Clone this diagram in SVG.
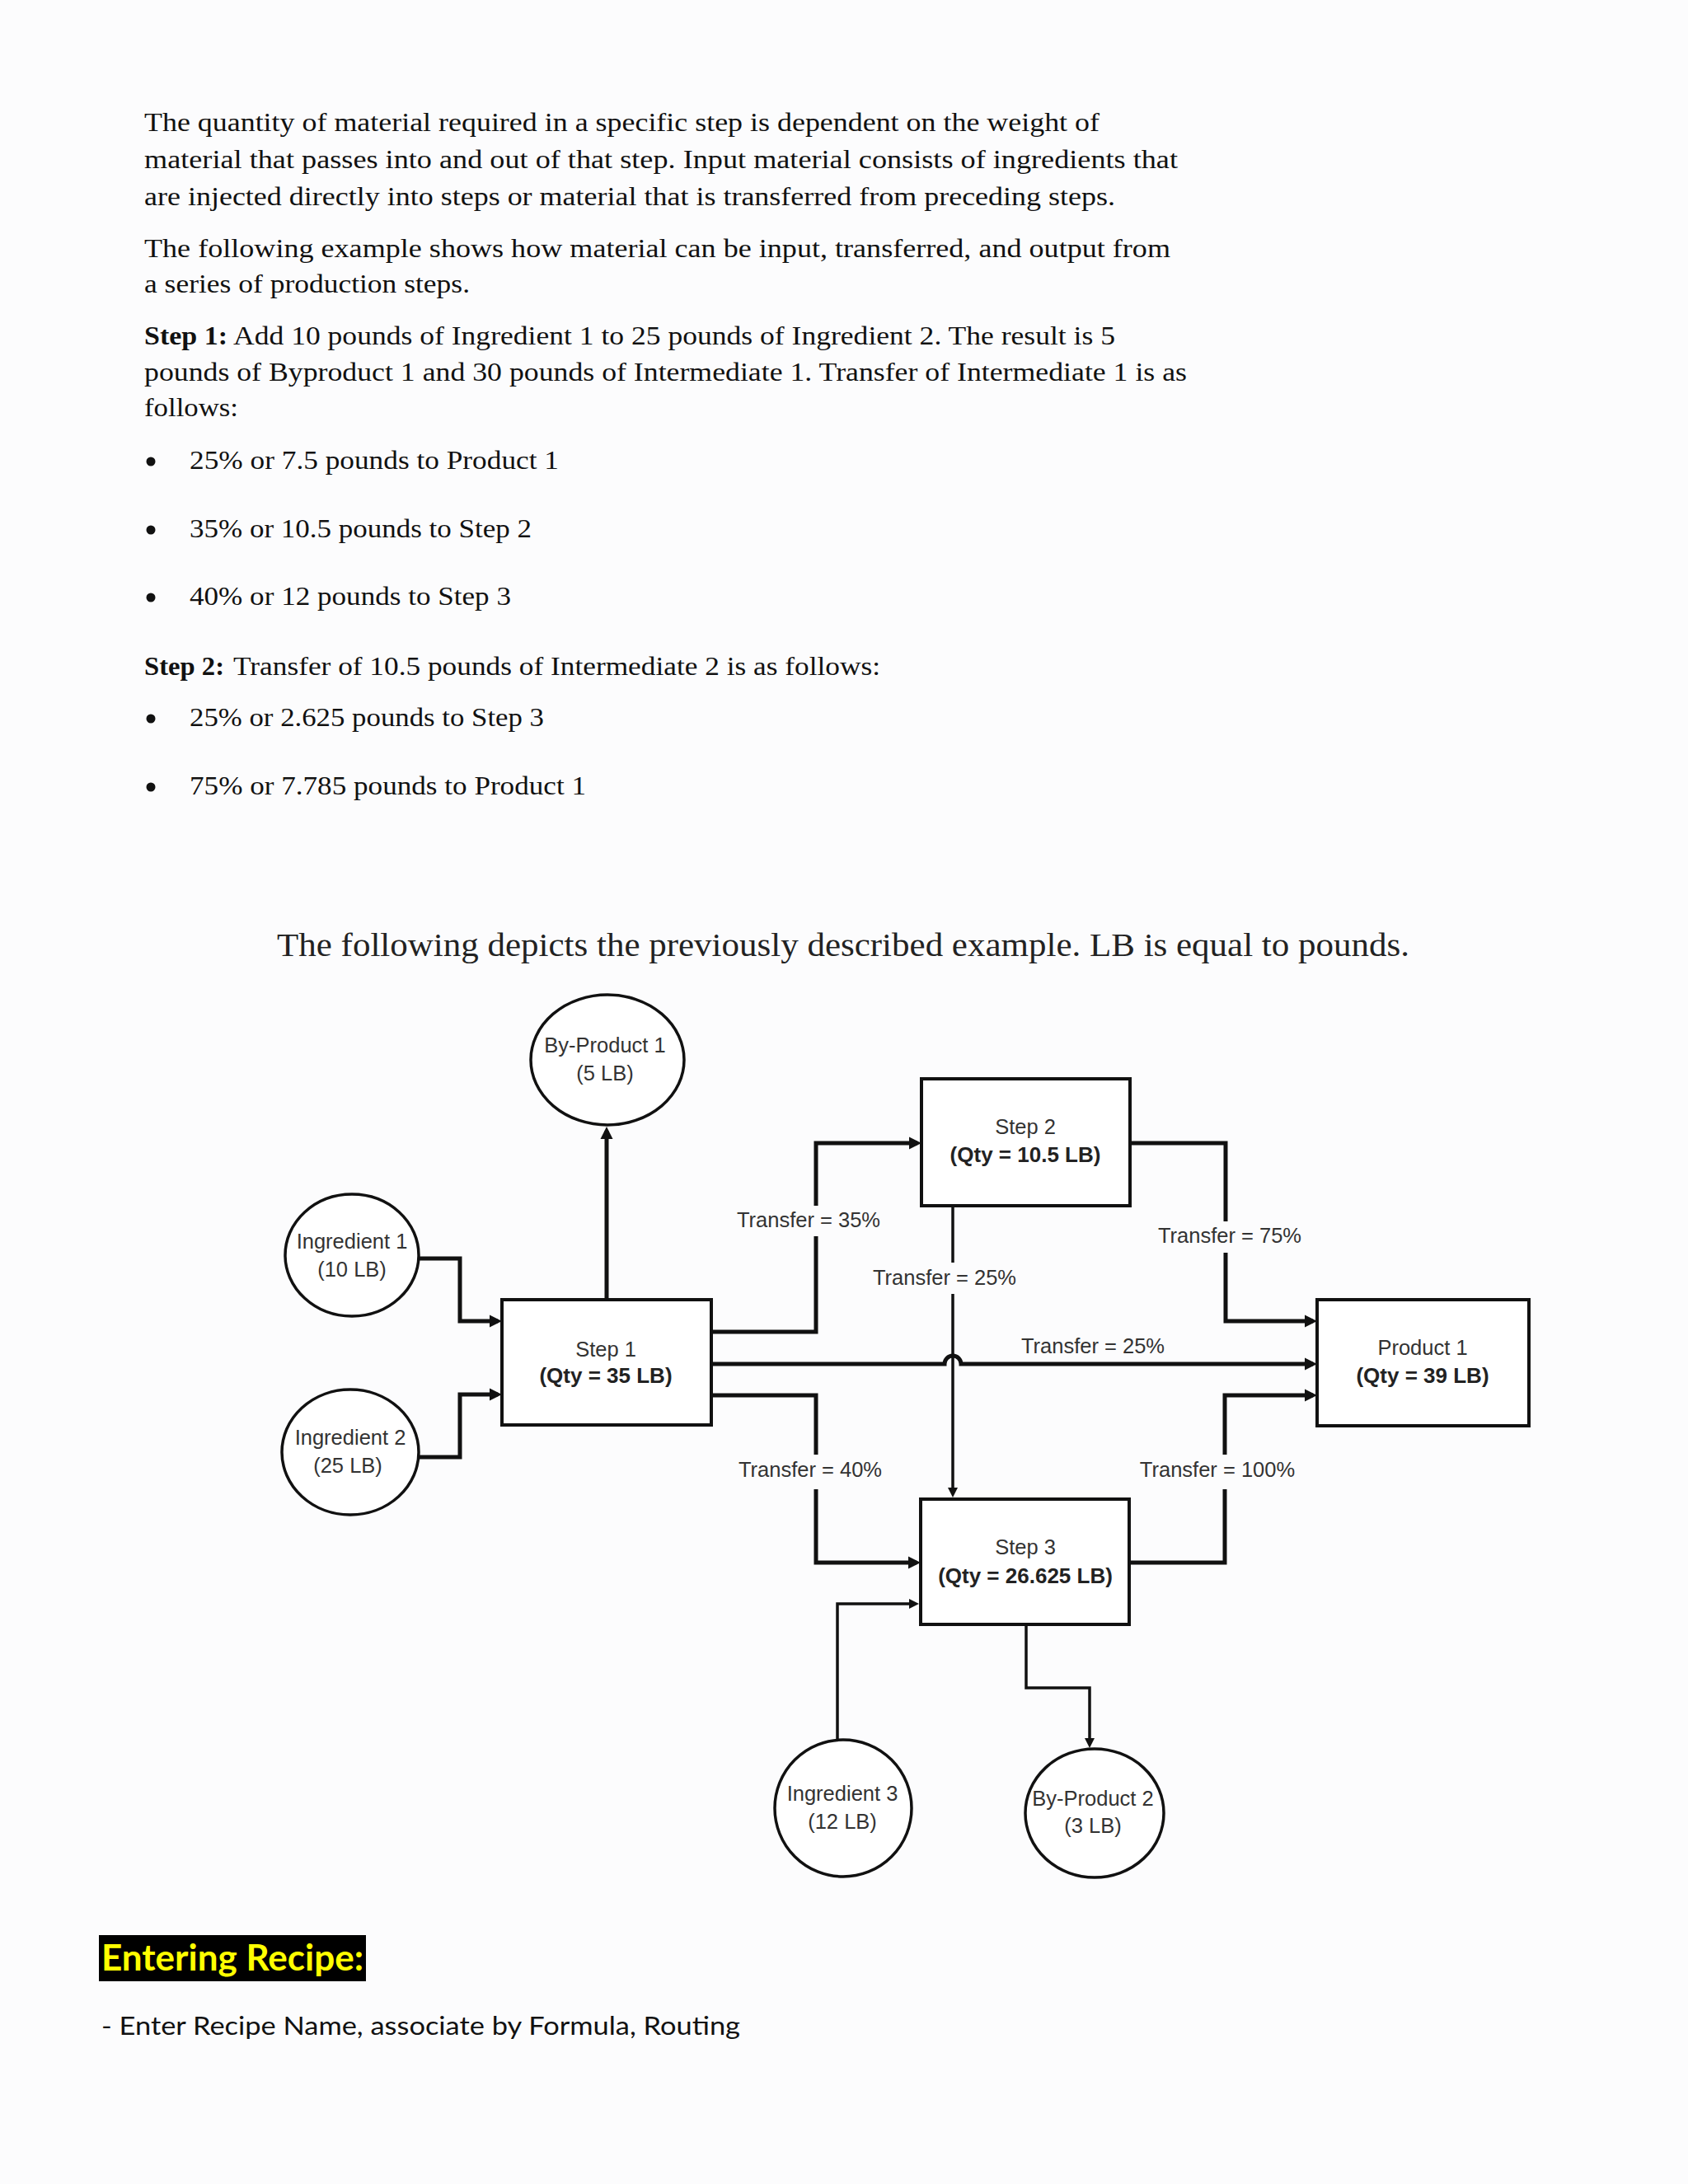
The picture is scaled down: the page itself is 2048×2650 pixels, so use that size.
<svg xmlns="http://www.w3.org/2000/svg" width="2048" height="2650" viewBox="0 0 2048 2650">
<style>
.body{font-family:"Liberation Serif","Times New Roman",serif;font-size:32px;fill:#111}
.bold{font-weight:bold}
.cap{font-family:"Liberation Serif","Times New Roman",serif;font-size:40px;fill:#222}
.nt{font-family:"Liberation Sans",Arial,sans-serif;font-size:25.5px;fill:#333;text-anchor:middle}
.nb{font-family:"Liberation Sans",Arial,sans-serif;font-size:26px;font-weight:bold;fill:#222;text-anchor:middle}
.lbl{font-family:"Liberation Sans",Arial,sans-serif;font-size:25.5px;fill:#333;text-anchor:middle}
.box{fill:#fff;stroke:#111;stroke-width:4}
.circ{fill:#fff;stroke:#111;stroke-width:3.5}
.thick{fill:none;stroke:#111;stroke-width:5;stroke-linejoin:miter}
.thin{fill:none;stroke:#111;stroke-width:3.5;stroke-linejoin:miter}
.gap{fill:#fcfcfd}
.calibri{font-family:Lato,"Open Sans","Liberation Sans",sans-serif}
</style>
<defs>
<marker id="ah" markerUnits="userSpaceOnUse" markerWidth="17" markerHeight="17" refX="10" refY="8.5" orient="auto"><path d="M0,1 L15,8.5 L0,16 z" fill="#111"/></marker>
<marker id="ahs" markerUnits="userSpaceOnUse" markerWidth="14" markerHeight="14" refX="7" refY="7" orient="auto"><path d="M0,1 L12,7 L0,13 z" fill="#111"/></marker>
</defs>
<rect x="0" y="0" width="2048" height="2650" fill="#fcfcfd"/>

<g id="text-intro">
<text class="body" x="175" y="159" textLength="1159" lengthAdjust="spacingAndGlyphs">The quantity of material required in a specific step is dependent on the weight of</text>
<text class="body" x="175" y="204" textLength="1254" lengthAdjust="spacingAndGlyphs">material that passes into and out of that step. Input material consists of ingredients that</text>
<text class="body" x="175" y="249" textLength="1178" lengthAdjust="spacingAndGlyphs">are injected directly into steps or material that is transferred from preceding steps.</text>
<text class="body" x="175" y="312" textLength="1245" lengthAdjust="spacingAndGlyphs">The following example shows how material can be input, transferred, and output from</text>
<text class="body" x="175" y="355" textLength="395" lengthAdjust="spacingAndGlyphs">a series of production steps.</text>
<text class="body bold" x="175" y="418" textLength="101" lengthAdjust="spacingAndGlyphs">Step 1:</text>
<text class="body" x="283" y="418" textLength="1070" lengthAdjust="spacingAndGlyphs">Add 10 pounds of Ingredient 1 to 25 pounds of Ingredient 2. The result is 5</text>
<text class="body" x="175" y="462" textLength="1265" lengthAdjust="spacingAndGlyphs">pounds of Byproduct 1 and 30 pounds of Intermediate 1. Transfer of Intermediate 1 is as</text>
<text class="body" x="175" y="505" textLength="114" lengthAdjust="spacingAndGlyphs">follows:</text>
<circle cx="183" cy="560" r="5.5" fill="#111"/>
<text class="body" x="230" y="569" textLength="448" lengthAdjust="spacingAndGlyphs">25% or 7.5 pounds to Product 1</text>
<circle cx="183" cy="643" r="5.5" fill="#111"/>
<text class="body" x="230" y="652" textLength="415" lengthAdjust="spacingAndGlyphs">35% or 10.5 pounds to Step 2</text>
<circle cx="183" cy="725" r="5.5" fill="#111"/>
<text class="body" x="230" y="734" textLength="390" lengthAdjust="spacingAndGlyphs">40% or 12 pounds to Step 3</text>
<text class="body bold" x="175" y="819" textLength="97" lengthAdjust="spacingAndGlyphs">Step 2:</text>
<text class="body" x="283" y="819" textLength="785" lengthAdjust="spacingAndGlyphs">Transfer of 10.5 pounds of Intermediate 2 is as follows:</text>
<circle cx="183" cy="872" r="5.5" fill="#111"/>
<text class="body" x="230" y="881" textLength="430" lengthAdjust="spacingAndGlyphs">25% or 2.625 pounds to Step 3</text>
<circle cx="183" cy="955" r="5.5" fill="#111"/>
<text class="body" x="230" y="964" textLength="481" lengthAdjust="spacingAndGlyphs">75% or 7.785 pounds to Product 1</text>
<text class="cap" x="336" y="1160" textLength="1374" lengthAdjust="spacingAndGlyphs">The following depicts the previously described example. LB is equal to pounds.</text>
</g>

<g id="connectors">
<path class="thick" d="M508,1527 H558 V1603 H604" marker-end="url(#ah)"/>
<path class="thick" d="M508,1768 H558 V1692 H604" marker-end="url(#ah)"/>
<path class="thick" d="M736,1577 V1372" marker-end="url(#ah)"/>
<path class="thick" d="M863,1616 H990 V1387 H1113" marker-end="url(#ah)"/>
<path class="thick" d="M863,1655 H1146 A10,10 0 0 1 1166,1655 H1593" marker-end="url(#ah)"/>
<path class="thick" d="M863,1693 H990 V1896 H1112" marker-end="url(#ah)"/>
<path class="thick" d="M1371,1387 H1487 V1603 H1593" marker-end="url(#ah)"/>
<path class="thin" d="M1156,1463 V1812" marker-end="url(#ahs)"/>
<path class="thick" d="M1370,1896 H1486 V1693 H1593" marker-end="url(#ah)"/>
<path class="thin" d="M1016,2111 V1946 H1110" marker-end="url(#ahs)"/>
<path class="thin" d="M1245,1971 V2048 H1322 V2116" marker-end="url(#ahs)"/>
<rect class="gap" x="890" y="1463" width="182" height="37"/>
<text class="lbl" x="981" y="1489">Transfer = 35%</text>
<rect class="gap" x="1401" y="1482" width="182" height="38"/>
<text class="lbl" x="1492" y="1508">Transfer = 75%</text>
<rect class="gap" x="1055" y="1532" width="183" height="38"/>
<text class="lbl" x="1146" y="1559">Transfer = 25%</text>
<text class="lbl" x="1326" y="1642">Transfer = 25%</text>
<rect class="gap" x="893" y="1765" width="181" height="42"/>
<text class="lbl" x="983" y="1792">Transfer = 40%</text>
<rect class="gap" x="1379" y="1765" width="197" height="42"/>
<text class="lbl" x="1477" y="1792">Transfer = 100%</text>
</g>

<g id="byproduct1">
<ellipse class="circ" cx="737" cy="1286" rx="93" ry="79"/>
<text class="nt" x="734" y="1277">By-Product 1</text>
<text class="nt" x="734" y="1311">(5 LB)</text>
</g>
<g id="ingredient1">
<ellipse class="circ" cx="427" cy="1523" rx="81" ry="74"/>
<text class="nt" x="427" y="1515">Ingredient 1</text>
<text class="nt" x="427" y="1549">(10 LB)</text>
</g>
<g id="ingredient2">
<ellipse class="circ" cx="425" cy="1762" rx="83" ry="76"/>
<text class="nt" x="425" y="1753">Ingredient 2</text>
<text class="nt" x="422" y="1787">(25 LB)</text>
</g>
<g id="step1">
<rect class="box" x="609" y="1577" width="254" height="152"/>
<text class="nt" x="735" y="1646">Step 1</text>
<text class="nb" x="735" y="1678">(Qty = 35 LB)</text>
</g>
<g id="step2">
<rect class="box" x="1118" y="1309" width="253" height="154"/>
<text class="nt" x="1244" y="1376">Step 2</text>
<text class="nb" x="1244" y="1410">(Qty = 10.5 LB)</text>
</g>
<g id="product1">
<rect class="box" x="1598" y="1577" width="257" height="153"/>
<text class="nt" x="1726" y="1644">Product 1</text>
<text class="nb" x="1726" y="1678">(Qty = 39 LB)</text>
</g>
<g id="step3">
<rect class="box" x="1117" y="1819" width="253" height="152"/>
<text class="nt" x="1244" y="1886">Step 3</text>
<text class="nb" x="1244" y="1921">(Qty = 26.625 LB)</text>
</g>
<g id="ingredient3">
<ellipse class="circ" cx="1023" cy="2194" rx="83" ry="83"/>
<text class="nt" x="1022" y="2185">Ingredient 3</text>
<text class="nt" x="1022" y="2219">(12 LB)</text>
</g>
<g id="byproduct2">
<ellipse class="circ" cx="1328" cy="2200" rx="84" ry="78"/>
<text class="nt" x="1326" y="2191">By-Product 2</text>
<text class="nt" x="1326" y="2224">(3 LB)</text>
</g>

<g id="text-footer">
<rect x="120" y="2348" width="324" height="56" fill="#000"/>
<text class="calibri" x="123" y="2391" font-size="44" font-weight="bold" fill="#ffff00" textLength="318" lengthAdjust="spacingAndGlyphs">Entering Recipe:</text>
<text class="calibri" x="123" y="2469" font-size="30" fill="#111" textLength="775" lengthAdjust="spacingAndGlyphs">- Enter Recipe Name, associate by Formula, Routing</text>
</g>
</svg>
